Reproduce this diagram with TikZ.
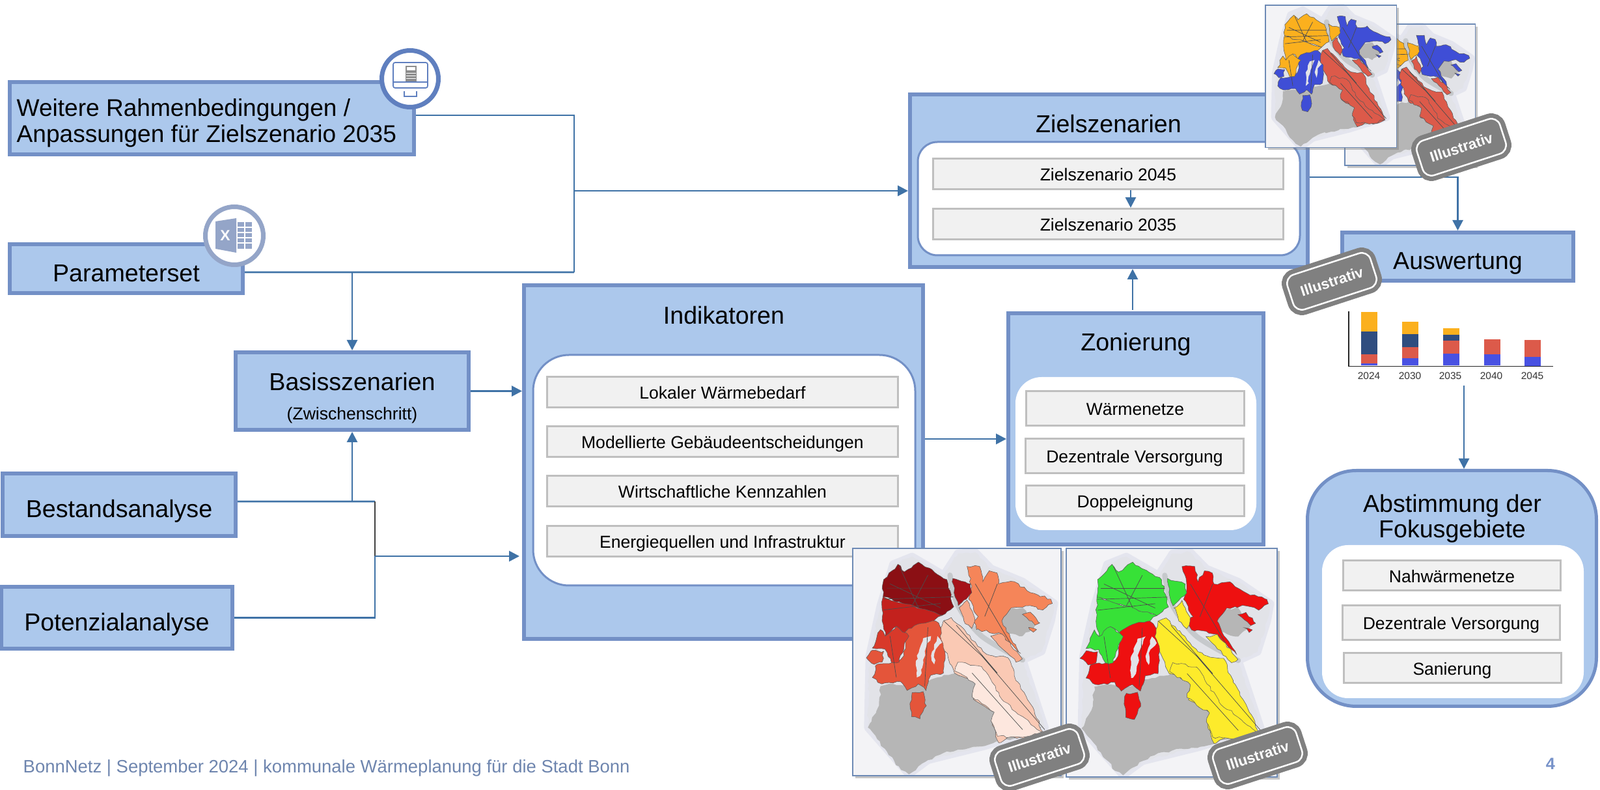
\documentclass[tikz,border=0pt]{standalone}
\usepackage{fontspec}
\setmainfont{Liberation Sans}
\usetikzlibrary{arrows.meta,shadows,decorations.pathmorphing}

\definecolor{boxfill}{HTML}{ACC8EC}
\definecolor{boxline}{HTML}{7390C6}
\definecolor{flowblue}{HTML}{3F72A6}
\definecolor{grayfill}{HTML}{F1F1F1}
\definecolor{grayline}{HTML}{BFBFBF}
\definecolor{footblue}{HTML}{6E85AE}
\definecolor{mapbg}{HTML}{F3F3F6}
\definecolor{mapland}{HTML}{E2E3E8}
\definecolor{maphalo}{HTML}{C4C7DE}
\definecolor{mapbase}{HTML}{B6B6B6}
\definecolor{mapedge}{HTML}{6D8AB5}
\definecolor{mapriver}{HTML}{C6C9CC}
\definecolor{stampgray}{HTML}{808080}
\definecolor{iconblue}{HTML}{5F7FBF}
\definecolor{iconpale}{HTML}{94A5C8}
% map areas
\definecolor{heatA}{HTML}{8B0F14}
\definecolor{heatB}{HTML}{C3211D}
\definecolor{heatC}{HTML}{D8392A}
\definecolor{heatD}{HTML}{E4553A}
\definecolor{heatE}{HTML}{F58559}
\definecolor{heatF}{HTML}{A5131A}
\definecolor{heatG}{HTML}{F7A98A}
\definecolor{heatH}{HTML}{FAC9B4}
\definecolor{heatI}{HTML}{FDE7DE}
\definecolor{zoneG}{HTML}{37E137}
\definecolor{zoneR}{HTML}{EE1010}
\definecolor{zoneY}{HTML}{FDEB2B}
\definecolor{scenO}{HTML}{FBB01E}
\definecolor{scenB}{HTML}{3F4ED6}
\definecolor{scenR}{HTML}{DC5A4A}
\definecolor{barnavy}{HTML}{2F4D7F}
\definecolor{barblue}{HTML}{4851E2}

\tikzset{
  bluebox/.style={draw=boxline, fill=boxfill, line width=0.06cm, inner sep=0pt,
    font=\fontsize{10.7}{11.3}\selectfont, text height=0.4cm, text depth=0cm},
  whitebox/.style={draw=boxline, fill=white, line width=0.03cm, rounded corners=0.3cm},
  plainbox/.style={fill=white, rounded corners=0.4cm},
  graybox/.style={draw=grayline, fill=grayfill, line width=0.03cm, inner sep=0pt,
    font=\fontsize{7.55}{9}\selectfont, text height=0.215cm, text depth=0cm},
  titletext/.style={font=\fontsize{10.7}{11}\selectfont, inner sep=0pt},
  flow/.style={draw=flowblue, line width=0.8pt},
  flowarrow/.style={flow, -{Triangle[length=0.16cm,width=0.16cm]}},
  stamp/.style={rotate=18, draw=stampgray, fill=stampgray, line width=0.07cm,
    double=white, double distance=0.025cm, rounded corners=0.14cm,
    minimum width=1.34cm, minimum height=0.56cm, inner sep=0pt, text=white,
    font=\fontsize{6.4}{8}\bfseries\selectfont,
    drop shadow={opacity=0.4, shadow xshift=0.04cm, shadow yshift=-0.04cm}},
  iconring/.style={circle, fill=white, line width=0.07cm, inner sep=0pt,
    drop shadow={opacity=0.3, shadow xshift=0.02cm, shadow yshift=-0.03cm}},
  yearlabel/.style={font=\fontsize{4.4}{5}\selectfont, text=black!80, inner sep=0pt},
  rough/.style={decorate, decoration={random steps, segment length=0.06cm, amplitude=0.018cm}},
  mapshape/.style={draw=black!65, line width=0.15pt, rough},
  mapline/.style={draw=black!70, line width=0.2pt}
}

% cNW, cMid, cLobe, cSW, cEast, cSmall, cBank, cSouth, cPale
\newcommand{\citymap}[9]{
  \fill[mapbg, drop shadow={opacity=0.45, shadow xshift=0.04cm, shadow yshift=-0.04cm}]
    (0,0) rectangle (660,1045);
  \begin{scope}[shift={(-62,-67)}]
    \draw[maphalo, line width=0.12cm, line join=round, opacity=0.3]
      (115,560) -- (150,330) -- (190,140) -- (250,105) -- (350,190) -- (395,90) -- (450,85)
      -- (500,160) -- (600,220) -- (700,320) -- (690,400) -- (660,540) -- (600,580)
      -- (670,890) -- (480,975) -- (300,1040) -- (240,1105) -- (110,890) -- cycle;
    \fill[mapland, rough]
      (115,560) -- (150,330) -- (190,140) -- (250,105) -- (350,190) -- (395,90) -- (450,85)
      -- (500,160) -- (600,220) -- (700,320) -- (690,400) -- (660,540) -- (600,580)
      -- (670,890) -- (480,975) -- (300,1040) -- (240,1105) -- (110,890) -- cycle;
    \fill[mapbase, rough] (150,700) -- (190,690) -- (250,700) -- (330,660) -- (390,640) -- (470,620)
      -- (560,720) -- (620,830) -- (660,890) -- (620,925) -- (540,950) -- (480,975)
      -- (430,985) -- (360,1000) -- (300,1040) -- (240,1105) -- (215,1085) -- (170,1000)
      -- (110,890) -- (145,790) -- cycle;
    \fill[mapbase, rough] (520,350) -- (600,340) -- (640,420) -- (600,470) -- (540,450) -- cycle;
    \draw[mapriver, line width=0.08cm, line cap=round] plot[smooth] coordinates
      {(370,190) (395,330) (470,470) (600,580)};
    % west bank
    \filldraw[mapshape, fill=#1] (160,210) -- (205,140) -- (225,175) -- (270,130) -- (340,195)
      -- (360,210) -- (382,335) -- (345,375) -- (280,345) -- (220,320) -- (158,290) -- cycle;
    \filldraw[mapshape, fill=#2] (158,290) -- (220,320) -- (280,345) -- (345,375) -- (300,420)
      -- (260,430) -- (240,470) -- (200,425) -- (165,470) -- (155,400) -- cycle;
    \filldraw[mapshape, fill=#4] (229,450) -- (269,415) -- (324,400) -- (364,470) -- (374,510)
      -- (354,540) -- (349,640) -- (309,650) -- (294,720) -- (269,690) -- (234,720)
      -- (214,680) -- (154,690) -- (124,660) -- (139,600) -- (204,590) -- (224,560)
      -- (229,500) -- cycle;
    \filldraw[mapshape, fill=#4] (105,570) -- (125,535) -- (160,540) -- (155,590) -- (130,600) -- cycle;
    \filldraw[mapshape, fill=#4] (250,730) -- (285,725) -- (295,790) -- (275,850) -- (248,840)
      -- (243,780) -- cycle;
    \filldraw[mapshape, fill=#3] (150,440) -- (165,470) -- (200,425) -- (240,470) -- (225,510)
      -- (209,590) -- (184,590) -- (164,530) -- (124,525) -- cycle;
    \fill[mapland, rough] (285,480) -- (310,470) -- (290,540) -- (280,640) -- (265,660) -- (265,560) -- cycle;
    \fill[mapland, rough] (330,470) -- (345,500) -- (325,530) -- (320,600) -- (310,560) -- cycle;
    % east bank
    \filldraw[mapshape, fill=#5] (424,150) -- (464,150) -- (474,220) -- (494,170) -- (519,180)
      -- (524,230) -- (574,220) -- (624,270) -- (689,300) -- (694,320) -- (664,350)
      -- (624,330) -- (564,340) -- (549,370) -- (534,400) -- (549,450) -- (594,550)
      -- (579,530) -- (534,460) -- (454,440) -- (444,400) -- (459,380) -- (429,300)
      -- (439,240) -- cycle;
    \filldraw[mapshape, fill=#5] (599,370) -- (624,360) -- (654,410) -- (639,420) -- cycle;
    \filldraw[mapshape, fill=#5] (619,430) -- (644,440) -- (634,452) -- cycle;
    \filldraw[mapshape, fill=#6] (379,205) -- (434,230) -- (439,270) -- (414,305) -- (396,330)
      -- (386,290) -- cycle;
    \filldraw[mapshape, fill=#7] (424,305) -- (444,370) -- (449,400) -- (439,435) -- (414,400)
      -- (399,340) -- cycle;
    \filldraw[mapshape, fill=#7] (499,470) -- (534,460) -- (599,575) -- (579,590) -- cycle;
    % south
    \filldraw[mapshape, fill=#8] (349,400) -- (374,385) -- (424,460) -- (474,540) -- (504,560)
      -- (554,570) -- (584,680) -- (624,780) -- (664,910) -- (604,940) -- (564,930)
      -- (524,960) -- (504,880) -- (514,820) -- (444,760) -- (454,680) -- (384,640)
      -- (364,570) -- (339,470) -- cycle;
    \filldraw[mapshape, fill=#9] (395,590) -- (470,610) -- (540,770) -- (600,840) -- (660,910)
      -- (600,935) -- (520,930) -- (500,860) -- (510,820) -- (440,750) -- (450,690)
      -- (385,630) -- cycle;
    \draw[mapline] (180,230) -- (340,340) (210,150) -- (270,340) (160,300) -- (380,290)
      (300,190) -- (250,330) (180,470) -- (200,660) (300,430) -- (290,700)
      (350,400) -- (470,560) -- (670,900) (390,420) -- (520,640) (450,230) -- (560,500)
      (520,230) -- (480,380) (440,640) -- (600,900) (170,250) -- (370,250) (160,350) -- (340,320);
  \end{scope}
  \draw[mapedge, line width=0.5pt] (0,0) rectangle (660,1045);
}

\begin{document}
\begin{tikzpicture}
  \useasboundingbox (0,0) rectangle (24.58,-12.13);

  % input boxes
  \node[bluebox, minimum width=6.21cm, minimum height=1.11cm] (weitere) at (3.255,-1.815) {};
  \node[titletext, anchor=west, align=left, font=\fontsize{10.55}{11.34}\selectfont] (weiteretext) at (0.25,-1.89)
    {Weitere Rahmenbedingungen /\\Anpassungen für Zielszenario 2035};
  \node[bluebox, minimum width=3.58cm, minimum height=0.75cm] (param) at (1.94,-4.125) {Parameterset};
  \node[bluebox, minimum width=3.58cm, minimum height=0.96cm] (bestand) at (1.83,-7.75) {Bestandsanalyse};
  \node[bluebox, minimum width=3.55cm, minimum height=0.95cm] (potenzial) at (1.795,-9.485) {Potenzialanalyse};

  \node[bluebox, minimum width=3.58cm, minimum height=1.19cm] (basis) at (5.41,-6.005) {};
  \node[titletext, anchor=base] (basistitle) at (5.41,-6.00) {Basisszenarien};
  \node[titletext, anchor=base, font=\fontsize{7.55}{9}\selectfont] (basissub) at (5.41,-6.45) {(Zwischenschritt)};

  % Indikatoren
  \node[bluebox, minimum width=6.13cm, minimum height=5.43cm] (indik) at (11.115,-7.095) {};
  \node[titletext, anchor=base] (indiktitle) at (11.12,-4.975) {Indikatoren};
  \node[whitebox, rounded corners=0.55cm, minimum width=5.87cm, minimum height=3.54cm] (indikwhite) at (11.125,-7.22) {};
  \node[graybox, minimum width=5.39cm, minimum height=0.47cm] (lokal) at (11.10,-6.02) {Lokaler Wärmebedarf};
  \node[graybox, minimum width=5.39cm, minimum height=0.47cm] (modell) at (11.10,-6.78) {Modellierte Gebäudeentscheidungen};
  \node[graybox, minimum width=5.39cm, minimum height=0.47cm] (wirt) at (11.10,-7.54) {Wirtschaftliche Kennzahlen};
  \node[graybox, minimum width=5.39cm, minimum height=0.47cm] (energie) at (11.10,-8.31) {Energiequellen und Infrastruktur};

  % Zonierung
  \node[bluebox, minimum width=3.92cm, minimum height=3.55cm] (zon) at (17.45,-6.585) {};
  \node[titletext, anchor=base] (zontitle) at (17.45,-5.385) {Zonierung};
  \node[plainbox, minimum width=3.70cm, minimum height=2.35cm] (zonwhite) at (17.45,-6.965) {};
  \node[graybox, minimum width=3.35cm, minimum height=0.53cm] (waerme) at (17.44,-6.27) {Wärmenetze};
  \node[graybox, minimum width=3.35cm, minimum height=0.53cm] (dezent) at (17.43,-7.00) {Dezentrale Versorgung};
  \node[graybox, minimum width=3.35cm, minimum height=0.47cm] (doppel) at (17.44,-7.69) {Doppeleignung};

  % Zielszenarien
  \node[bluebox, minimum width=6.11cm, minimum height=2.65cm] (ziel) at (17.035,-2.775) {};
  \node[titletext, anchor=base] (zieltitle) at (17.03,-2.035) {Zielszenarien};
  \node[whitebox, minimum width=5.87cm, minimum height=1.74cm] (zielwhite) at (17.035,-3.05) {};
  \node[graybox, minimum width=5.38cm, minimum height=0.47cm] (ziel45) at (17.025,-2.67) {Zielszenario 2045};
  \node[graybox, minimum width=5.38cm, minimum height=0.47cm] (ziel35) at (17.025,-3.44) {Zielszenario 2035};

  % Auswertung, Abstimmung
  \node[bluebox, minimum width=3.55cm, minimum height=0.74cm] (ausw) at (22.395,-3.94) {Auswertung};
  \node[bluebox, line width=0.05cm, rounded corners=0.75cm, minimum width=4.44cm, minimum height=3.62cm] (abst) at (22.305,-9.035) {};
  \node[titletext, anchor=center, align=center, font=\fontsize{10.7}{11}\selectfont] (abtitle) at (22.31,-7.96) {Abstimmung der\\Fokusgebiete};
  \node[plainbox, minimum width=4.02cm, minimum height=2.35cm] (abwhite) at (22.32,-9.545) {};
  \node[graybox, minimum width=3.34cm, minimum height=0.46cm] (nahw) at (22.305,-8.835) {Nahwärmenetze};
  \node[graybox, minimum width=3.34cm, minimum height=0.53cm] (dezent2) at (22.295,-9.56) {Dezentrale Versorgung};
  \node[graybox, minimum width=3.34cm, minimum height=0.46cm] (sanier) at (22.31,-10.255) {Sanierung};

  % connectors
  \coordinate (jtop) at (8.82,-2.93);
  \coordinate (jparam) at (8.82,-4.18);
  \coordinate (jlow) at (5.76,-7.70);
  \coordinate (jmid) at (5.76,-8.54);
  \coordinate (jzon) at (15.45,-6.74);
  \coordinate (jup) at (17.40,-4.76);
  \coordinate (chartend) at (22.49,-5.92);

  \draw[flow] ([yshift=0.045cm]weitere.east) -| (jparam);
  \draw[flow] ([yshift=-0.055cm]param.east) -- (jparam);
  \draw[flowarrow] (jtop) -- (ziel.west |- jtop);
  \draw[flowarrow] (basis.north |- jparam) -- (basis.north);
  \draw[flow] ([yshift=0.05cm]bestand.east) -- (jlow);
  \draw[flowarrow] (basis.south |- jlow) -- (basis.south);
  \draw[flow] (potenzial.east) -| (jmid);
  \draw[flow, draw=black!75] (jlow) -- (jmid);
  \draw[flowarrow] (jmid) -- ([xshift=-0.04cm]indik.west |- jmid);
  \draw[flowarrow] (basis.east) -- (indik.west |- basis.east);
  \draw[flowarrow] (indik.east |- jzon) -- (zon.west |- jzon);
  \draw[flowarrow] (jup) -- (jup |- ziel.south);
  \draw[flowarrow] ([xshift=0.345cm]ziel45.south) -- ([xshift=0.345cm]ziel35.north);
  \draw[flowarrow] ([yshift=0.055cm]ziel.east) -| (ausw.north);
  \draw[flowarrow] (chartend) -- (chartend |- abst.north);

  % icons
  \node[iconring, draw=iconblue, minimum size=0.87cm] (iconcalc) at (6.30,-1.21) {};
  \draw[iconblue, line width=0.5pt, rounded corners=0.03cm] (6.04,-0.96) rectangle (6.57,-1.35);
  \draw[iconblue, line width=0.5pt] (6.04,-1.26) -- (6.57,-1.26);
  \draw[iconblue, line width=0.5pt] (6.21,-1.40) -- (6.21,-1.48) -- (6.40,-1.48) -- (6.40,-1.40);
  \fill[black!45] (6.23,-1.01) rectangle (6.40,-1.25);
  \fill[white] (6.25,-1.03) rectangle (6.38,-1.08);
  \foreach \cy in {-1.12,-1.16,-1.20}
    \draw[white, line width=0.2pt] (6.24,\cy) -- (6.39,\cy);

  \node[iconring, draw=iconpale, minimum size=0.89cm] (iconxls) at (3.60,-3.62) {};
  \fill[iconpale] (3.65,-3.41) rectangle (3.87,-3.82);
  \foreach \gy in {-3.49,-3.57,-3.65,-3.73}
    \draw[white, line width=0.4pt] (3.65,\gy) -- (3.87,\gy);
  \draw[white, line width=0.4pt] (3.76,-3.41) -- (3.76,-3.82);
  \fill[iconpale] (3.31,-3.40) -- (3.63,-3.35) -- (3.63,-3.88) -- (3.31,-3.82) -- cycle;
  \node[text=white, font=\fontsize{6.5}{7}\bfseries\selectfont, inner sep=0pt] (xlsmark) at (3.46,-3.62) {X};

  % chart
  \foreach \bx/\ya/\yb/\yc/\yd/\ye in {20.91/4.79/5.09/5.44/5.58/5.61, 21.54/4.94/5.13/5.33/5.50/5.61,
      22.17/5.04/5.14/5.235/5.435/5.61, 22.80/5.21/5.21/5.21/5.44/5.61, 23.42/5.22/5.22/5.22/5.48/5.62} {
    \fill[scenO] (\bx,-\ya) rectangle (\bx+0.25,-\yb);
    \fill[barnavy] (\bx,-\yb) rectangle (\bx+0.25,-\yc);
    \fill[scenR] (\bx,-\yc) rectangle (\bx+0.25,-\yd);
    \fill[barblue] (\bx,-\yd) rectangle (\bx+0.25,-\ye);
  }
  \draw[black!85, line width=0.5pt] (20.72,-4.78) -- (20.72,-5.625) -- (23.86,-5.625);
  \foreach \lx/\yr in {21.03/2024, 21.66/2030, 22.28/2035, 22.91/2040, 23.54/2045}
    \node[yearlabel] (y\yr) at (\lx,-5.77) {\yr};

  % maps
  \begin{scope}[shift={(13.10,-8.42)}, x=0.00485cm, y=-0.00334cm]
    \citymap{heatA}{heatB}{heatC}{heatD}{heatE}{heatF}{heatG}{heatH}{heatI}
  \end{scope}
  \begin{scope}[shift={(16.38,-8.42)}, x=0.00491cm, y=-0.00336cm]
    \citymap{zoneG}{zoneG}{zoneG}{zoneR}{zoneR}{zoneG}{zoneY}{zoneY}{zoneY}
  \end{scope}
  \begin{scope}[shift={(20.66,-0.37)}, x=0.00303cm, y=-0.00208cm]
    \citymap{scenO}{scenO}{scenO}{scenB}{scenB}{scenO}{scenR}{scenR}{scenR}
  \end{scope}
  \begin{scope}[shift={(19.44,-0.08)}, x=0.00305cm, y=-0.00209cm]
    \citymap{scenO}{scenO}{scenO}{scenB}{scenB}{scenO}{scenR}{scenR}{scenR}
  \end{scope}

  % stamps
  \node[stamp] (stampziel) at (22.45,-2.26) {Illustrativ};
  \node[stamp] (stampausw) at (20.46,-4.32) {Illustrativ};
  \node[stamp] (stampindik) at (15.97,-11.63) {Illustrativ};
  \node[stamp] (stampzon) at (19.32,-11.60) {Illustrativ};

  % footer
  \node[anchor=base west, inner sep=0pt, text=footblue, font=\fontsize{7.815}{9}\selectfont] (footer) at (0.35,-11.87)
    {BonnNetz | September 2024 | kommunale Wärmeplanung für die Stadt Bonn};
  \node[inner sep=0pt, text=iconblue!85!white, font=\fontsize{7.2}{9}\bfseries\selectfont] (pagenum) at (23.82,-11.73) {4};
\end{tikzpicture}
\end{document}
